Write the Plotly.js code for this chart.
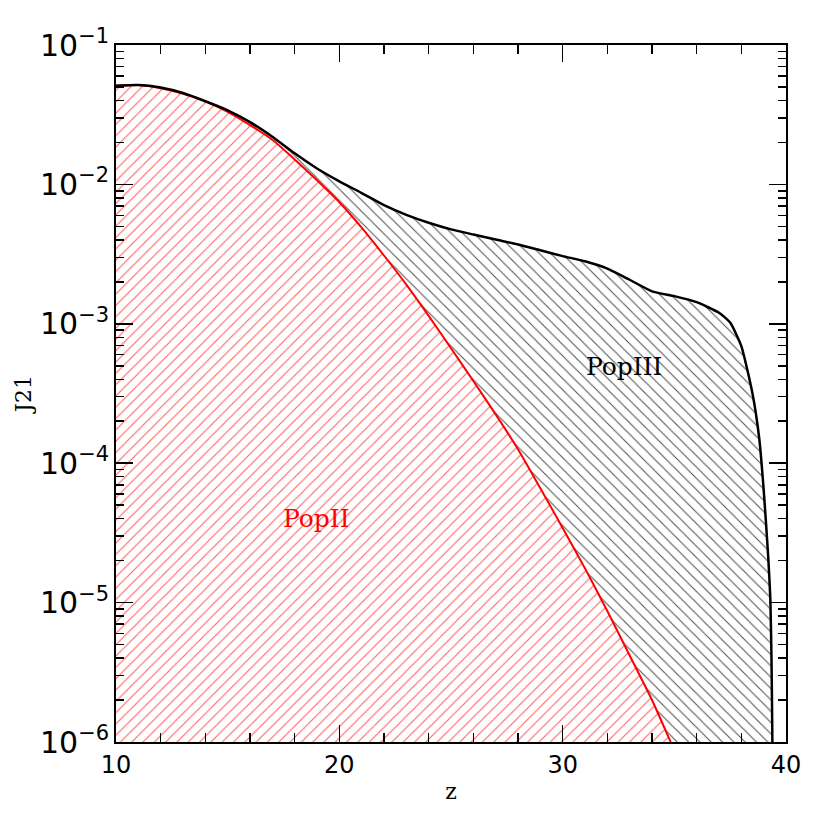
<!DOCTYPE html>
<html>
<head>
<meta charset="utf-8">
<script src="https://cdn.plot.ly/plotly-3.0.1.min.js"></script>
<style>
  html, body { margin: 0; padding: 0; background: #fff; }
  #chart { width: 830px; height: 830px; }
</style>
</head>
<body>
<div id="chart"></div>
<script>
// redshift grid and J21 values
const zPop2 = [10, 11, 12, 13, 14, 15, 16, 17, 18, 19, 20, 21, 22, 23, 24, 25,
               26, 27, 28, 29, 30, 31, 32, 33, 34, 35, 36];
const jPop2 = [0.0511, 0.0516, 0.0490, 0.0447, 0.0394, 0.0331, 0.0266, 0.0209,
               0.0151, 0.0107, 0.00745, 0.00490, 0.00309, 0.00191, 0.00114,
               6.68e-4, 3.89e-4, 2.24e-4, 1.26e-4, 6.61e-5, 3.43e-5, 1.76e-5,
               8.71e-6, 4.17e-6, 2.00e-6, 8.7e-7, 3.8e-7];

const zTotal = [10, 11, 12, 13, 14, 15, 16, 17, 18, 19, 20, 21, 22, 23, 24, 25,
                26, 27, 28, 29, 30, 31, 32, 33, 34, 35, 36, 37, 37.5, 38, 38.5,
                38.8, 39.0, 39.2, 39.3, 39.35, 39.39, 39.42];
const jTotal = [0.0511, 0.0516, 0.0495, 0.0452, 0.0395, 0.0340, 0.0280, 0.0220,
                0.0167, 0.0130, 0.01052, 0.00867, 0.00710, 0.00605, 0.00531,
                0.00476, 0.00437, 0.00402, 0.00371, 0.00337, 0.00306, 0.00281,
                0.00249, 0.00207, 0.00171, 0.00158, 0.00143, 0.00120, 0.00102,
                6.92e-4, 3.16e-4, 1.51e-4, 6.46e-5, 2.19e-5, 1.05e-5, 3.98e-6,
                1.0e-6, 1e-8];

// floor under the PopII hatch (below the visible range)
const zFloor = [10, 36];
const jFloor = [1e-8, 1e-8];

const labels = [
  { text: 'PopII', z: 18.97, j: 4.0e-5, color: '#ff0000' },
  { text: 'PopIII', z: 32.76, j: 4.9e-4, color: '#000000' }
];

const traces = [
  {
    x: zFloor, y: jFloor, mode: 'lines', type: 'scatter',
    line: { width: 0 }, hoverinfo: 'skip', showlegend: false
  },
  {
    x: zPop2, y: jPop2, mode: 'lines', type: 'scatter',
    fill: 'tonexty', fillcolor: 'rgba(255,255,255,0)',
    fillpattern: { shape: '/', fgcolor: 'rgba(255,50,50,0.8)', bgcolor: 'white', size: 8, solidity: 0.13 },
    line: { color: '#ff0000', width: 2, shape: 'spline', smoothing: 0.6 }, showlegend: false
  },
  {
    x: zTotal, y: jTotal, mode: 'lines', type: 'scatter',
    fill: 'tonexty', fillcolor: 'rgba(255,255,255,0)',
    fillpattern: { shape: '\\', fgcolor: 'rgba(50,50,50,0.85)', bgcolor: 'white', size: 8, solidity: 0.13 },
    line: { color: '#000000', width: 2.5, shape: 'spline', smoothing: 0.5 }, showlegend: false
  }
];

const tickFont = { family: 'DejaVu Sans, Arial, sans-serif', size: 24, color: '#000' };
const titleFont = { family: 'DejaVu Serif, serif', size: 22, color: '#000' };

const layout = {
  width: 830,
  height: 830,
  margin: { l: 116, r: 44, t: 45, b: 88 },
  paper_bgcolor: '#fff',
  plot_bgcolor: '#fff',
  showlegend: false,
  xaxis: {
    range: [10, 40],
    dtick: 10,
    tick0: 10,
    ticks: 'inside',
    ticklen: 17,
    tickwidth: 1.5,
    tickcolor: '#000',
    minor: { dtick: 2, ticks: 'inside', ticklen: 9, tickwidth: 1.5, tickcolor: '#000' },
    showline: true,
    linewidth: 2,
    linecolor: '#000',
    mirror: 'ticks',
    showgrid: false,
    zeroline: false,
    tickfont: tickFont,
    title: { text: 'z', font: titleFont, standoff: 6 }
  },
  yaxis: {
    type: 'log',
    range: [-6, -1],
    dtick: 1,
    exponentformat: 'power',
    ticks: 'inside',
    ticklen: 17,
    tickwidth: 1.5,
    tickcolor: '#000',
    minor: { dtick: 'D1', ticks: 'inside', ticklen: 8, tickwidth: 1.5, tickcolor: '#000' },
    showline: true,
    linewidth: 2,
    linecolor: '#000',
    mirror: 'ticks',
    showgrid: false,
    zeroline: false,
    tickfont: tickFont,
    title: { text: 'J21', font: titleFont, standoff: 2 }
  },
  annotations: labels.map(l => ({
    x: l.z, y: Math.log10(l.j), xref: 'x', yref: 'y',
    text: l.text, showarrow: false,
    font: { family: 'DejaVu Serif, serif', size: 25, color: l.color }
  }))
};

Plotly.newPlot('chart', traces, layout, { staticPlot: true });
</script>
</body>
</html>
